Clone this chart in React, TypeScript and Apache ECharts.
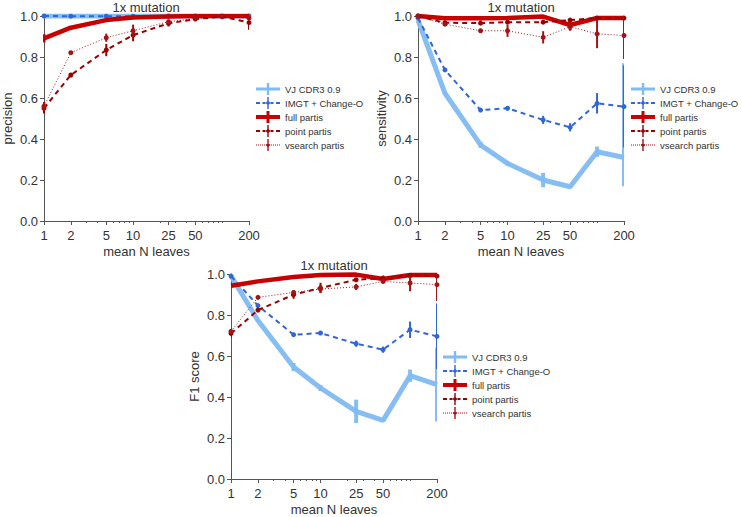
import React, { useEffect, useRef } from "react";
import * as echarts from "echarts";

// ---------- data ----------
const nLeaves = [1, 2, 5, 10, 25, 50, 100, 200];
const xTickValues = [1, 2, 5, 10, 25, 50, 200];
const xMinorTickValues = [3, 4, 6, 7, 8, 9, 20, 30, 40, 60, 70, 80, 90, 100];
const methods = ["VJ CDR3 0.9", "IMGT + Change-O", "full partis", "point partis", "vsearch partis"];
const panelTitles = ["1x mutation", "1x mutation", "1x mutation"];
const panelYNames = ["precision", "sensitivity", "F1 score"];
const xAxisName = "mean N leaves";

// precision
const precVj = [1.0, 1.0, 1.0, 1.0, 1.0, 1.0, 1.0, 1.0];
const precImgt = [1.0, 0.999, 0.999, 0.999, 1.0, 1.0, 1.0, 1.0];
const precFull = [0.891, 0.943, 0.98, 0.993, 0.998, 1.0, 1.0, 1.0];
const precPoint = [0.55, 0.712, 0.834, 0.907, 0.964, 0.985, 0.997, 0.968];
const precVsearch = [0.56, 0.821, 0.894, 0.928, 0.972, 0.988, 0.997, 0.99];
const precVjErr = [0, 0, 0, 0, 0, 0, 0, 0];
const precImgtErr = [0, 0, 0, 0, 0, 0, 0, 0];
const precFullErr = [0.02, 0.005, 0.005, 0.003, 0, 0, 0, 0];
const precPointErr = [0.025, 0.01, 0.03, 0.03, 0.015, 0.008, 0.005, 0.035];
const precVsearchErr = [0.02, 0.005, 0.02, 0.03, 0.01, 0.005, 0.003, 0.005];

// sensitivity
const sensVj = [0.98, 0.623, 0.371, 0.281, 0.2, 0.167, 0.338, 0.31];
const sensImgt = [0.99, 0.737, 0.541, 0.55, 0.493, 0.457, 0.574, 0.558];
const sensFull = [1.0, 0.989, 0.989, 0.99, 0.997, 0.956, 0.99, 0.99];
const sensPoint = [1.0, 0.967, 0.965, 0.97, 0.97, 0.98, 0.99, 0.99];
const sensVsearch = [1.0, 0.96, 0.928, 0.928, 0.896, 0.948, 0.913, 0.905];
const sensVjErr: (number | [number, number])[] = [0, 0.005, 0.015, 0.01, 0.035, 0.005, 0.025, [0.14, 0.46]];
const sensImgtErr = [0, 0.01, 0.01, 0.01, 0.02, 0.02, 0.05, 0.2];
const sensFullErr = [0, 0.005, 0.01, 0.005, 0.003, 0.025, 0.005, 0.01];
const sensPointErr = [0, 0.005, 0.005, 0.005, 0.005, 0.01, 0.005, 0.005];
const sensVsearchErr = [0, 0.005, 0.005, 0.03, 0.03, 0.02, 0.07, 0.115];

// F1 score
const f1Vj = [0.99, 0.773, 0.546, 0.444, 0.33, 0.286, 0.504, 0.46];
const f1Imgt = [0.99, 0.846, 0.704, 0.712, 0.66, 0.631, 0.728, 0.696];
const f1Full = [0.943, 0.964, 0.985, 0.995, 0.997, 0.976, 0.995, 0.995];
const f1Point = [0.71, 0.824, 0.899, 0.932, 0.972, 0.98, 0.992, 0.99];
const f1Vsearch = [0.72, 0.886, 0.91, 0.927, 0.937, 0.964, 0.956, 0.948];
const f1VjErr = [0, 0.005, 0.02, 0.015, 0.057, 0.005, 0.03, 0.18];
const f1ImgtErr = [0, 0.005, 0.008, 0.008, 0.015, 0.015, 0.04, 0.16];
const f1FullErr = [0.01, 0.003, 0.003, 0.002, 0.002, 0.015, 0.005, 0.005];
const f1PointErr = [0.02, 0.01, 0.02, 0.025, 0.008, 0.01, 0.005, 0.005];
const f1VsearchErr = [0.01, 0.005, 0.01, 0.02, 0.015, 0.01, 0.04, 0.08];

const panels = [
  { values: [precVj, precImgt, precFull, precPoint, precVsearch], errs: [precVjErr, precImgtErr, precFullErr, precPointErr, precVsearchErr] },
  { values: [sensVj, sensImgt, sensFull, sensPoint, sensVsearch], errs: [sensVjErr, sensImgtErr, sensFullErr, sensPointErr, sensVsearchErr] },
  { values: [f1Vj, f1Imgt, f1Full, f1Point, f1Vsearch], errs: [f1VjErr, f1ImgtErr, f1FullErr, f1PointErr, f1VsearchErr] },
];

// ---------- styles ----------
const methodStyles = [
  { color: "#80bbf3", width: 5, type: "solid" as any, symbol: "none", symbolSize: 0, errWidth: 4, opacity: 0.95 },
  { color: "#2f66d8", width: 2, type: [5, 4] as any, symbol: "circle", symbolSize: 5, errWidth: 2, opacity: 1 },
  { color: "#c80000", width: 4.5, type: "solid" as any, symbol: "none", symbolSize: 0, errWidth: 3, opacity: 1 },
  { color: "#990000", width: 2, type: [5, 4] as any, symbol: "circle", symbolSize: 5, errWidth: 2, opacity: 1 },
  { color: "#a31515", width: 1, type: [1, 2] as any, symbol: "circle", symbolSize: 5, errWidth: 2, opacity: 1 },
];

// legend icons in a 24x12 box: line style + error-bar cross
const tickAndMarker = "M11.3,0H12.7V12H11.3Z M12,3.6L14.4,6L12,8.4L9.6,6Z";
const legendIcons = [
  "path://M0,4.5H24V7.5H0Z M10.8,0H13.2V12H10.8Z",
  "path://M0,5H4V7H0Z M6.5,5H9.5V7H6.5Z M14.5,5H17.5V7H14.5Z M20,5H24V7H20Z " + tickAndMarker,
  "path://M0,4H24V8H0Z M10.5,0H13.5V12H10.5Z",
  "path://M0,5H4V7H0Z M6.5,5H9.5V7H6.5Z M14.5,5H17.5V7H14.5Z M20,5H24V7H20Z " + tickAndMarker,
  "path://M0,5.4H1V6.6H0Z M2,5.4H3V6.6H2Z M4,5.4H5V6.6H4Z M6,5.4H7V6.6H6Z M8,5.4H9V6.6H8Z M15,5.4H16V6.6H15Z M17,5.4H18V6.6H17Z M19,5.4H20V6.6H19Z M21,5.4H22V6.6H21Z M23,5.4H24V6.6H23Z " + tickAndMarker,
];

const grids = [
  { left: 43, top: 16, width: 206, height: 205 },
  { left: 418, top: 16, width: 206, height: 205 },
  { left: 231, top: 274, width: 206, height: 205 },
];
const legendPos = [
  { left: 256, top: 83 },
  { left: 631, top: 83 },
  { left: 443, top: 351 },
];

const FONT = "'Liberation Sans', Arial, sans-serif";
const TXT = "#333333";
const AXIS = "#555555";

export default function App() {
  const ref = useRef<HTMLDivElement>(null);
  useEffect(() => {
    if (!ref.current) return;
    const chart = echarts.init(ref.current, undefined, { renderer: "svg" });

    const series: any[] = [];
    panels.forEach((panel, g) => {
      methods.forEach((name, m) => {
        const st = methodStyles[m];
        const vals = panel.values[m];
        const errs = panel.errs[m] as any[];
        const errData = nLeaves
          .map((x, i) => {
            const e = errs[i];
            const [dn, up] = Array.isArray(e) ? e : [e, e];
            return [x, vals[i] - dn, vals[i] + up];
          })
          .filter((d) => d[2] - d[1] > 0);
        series.push({
          type: "line",
          name,
          xAxisIndex: g,
          yAxisIndex: g,
          data: nLeaves.map((x, i) => [x, vals[i]]),
          symbol: st.symbol,
          symbolSize: st.symbolSize,
          showSymbol: st.symbol !== "none",
          lineStyle: { color: st.color, width: st.width, type: st.type, opacity: st.opacity },
          itemStyle: { color: st.color },
          z: 2 + m,
          clip: true,
        });
        series.push({
          type: "custom",
          name: name + " err",
          xAxisIndex: g,
          yAxisIndex: g,
          data: errData,
          encode: { x: 0, y: [1, 2] },
          clip: true,
          silent: true,
          z: 2 + m,
          renderItem: (params: any, api: any) => {
            const p1 = api.coord([api.value(0), api.value(1)]);
            const p2 = api.coord([api.value(0), api.value(2)]);
            return {
              type: "line",
              shape: { x1: p1[0], y1: p1[1], x2: p2[0], y2: p2[1] },
              style: { stroke: st.color, lineWidth: st.errWidth, opacity: st.opacity },
            };
          },
        });
      });
    });

    const mainX = grids.map((_, g) => ({
      type: "log",
      gridIndex: g,
      logBase: 10,
      min: 1,
      max: 200,
      position: "bottom",
      name: xAxisName,
      nameLocation: "middle",
      nameGap: 24,
      nameTextStyle: { fontSize: 13, color: TXT, fontFamily: FONT },
      axisLine: { show: true, lineStyle: { color: AXIS, width: 1 } },
      axisTick: { show: true, length: 4, customValues: xTickValues, lineStyle: { color: AXIS } },
      axisLabel: {
        customValues: xTickValues,
        fontSize: 13,
        color: TXT,
        fontFamily: FONT,
        margin: 8,
        formatter: (v: number) => String(Math.round(v)),
      },
      splitLine: { show: false },
      minorTick: { show: false },
    }));
    // minor log ticks: a second log axis placed on the bottom edge
    const minorX = grids.map((gr, g) => ({
      type: "log",
      gridIndex: g,
      logBase: 10,
      min: 1,
      max: 200,
      position: "top",
      offset: -gr.height,
      axisLine: { show: false },
      axisTick: { show: true, inside: true, length: 2, customValues: xMinorTickValues, lineStyle: { color: AXIS } },
      axisLabel: { show: false, customValues: xMinorTickValues },
      splitLine: { show: false },
    }));

    const option: any = {
      animation: false,
      backgroundColor: "#ffffff",
      textStyle: { fontFamily: FONT },
      grid: grids.map((g) => ({ ...g, containLabel: false })),
      xAxis: [...mainX, ...minorX],
      yAxis: grids.map((_, g) => ({
        type: "value",
        gridIndex: g,
        min: 0,
        max: 1,
        interval: 0.2,
        name: panelYNames[g],
        nameLocation: "middle",
        nameGap: 30,
        nameTextStyle: { fontSize: 13, color: TXT, fontFamily: FONT },
        axisLine: { show: true, lineStyle: { color: AXIS, width: 1 } },
        axisTick: { show: true, length: 4, lineStyle: { color: AXIS } },
        axisLabel: {
          fontSize: 13,
          color: TXT,
          fontFamily: FONT,
          margin: 6,
          formatter: (v: number) => v.toFixed(1),
        },
        splitLine: { show: false },
      })),
      legend: legendPos.map((p) => ({
        ...p,
        orient: "vertical",
        data: methods.map((name, m) => ({ name, icon: legendIcons[m] })),
        itemWidth: 24,
        itemHeight: 12,
        itemGap: 2,
        selectedMode: false,
        padding: 0,
        textStyle: { fontSize: 9.5, color: TXT, fontFamily: FONT, lineHeight: 12 },
      })),
      graphic: grids.map((g, i) => ({
        type: "text",
        x: g.left + g.width / 2,
        y: g.top - 9,
        style: {
          text: panelTitles[i],
          fontSize: 13,
          fontFamily: FONT,
          fill: TXT,
          textAlign: "center",
          textVerticalAlign: "middle",
        },
      })),
      series,
    };
    chart.setOption(option);
    return () => chart.dispose();
  }, []);
  return (
    <div
      ref={ref}
      style={{ position: "fixed", left: 0, top: 0, width: 742, height: 517, background: "#fff" }}
    />
  );
}
